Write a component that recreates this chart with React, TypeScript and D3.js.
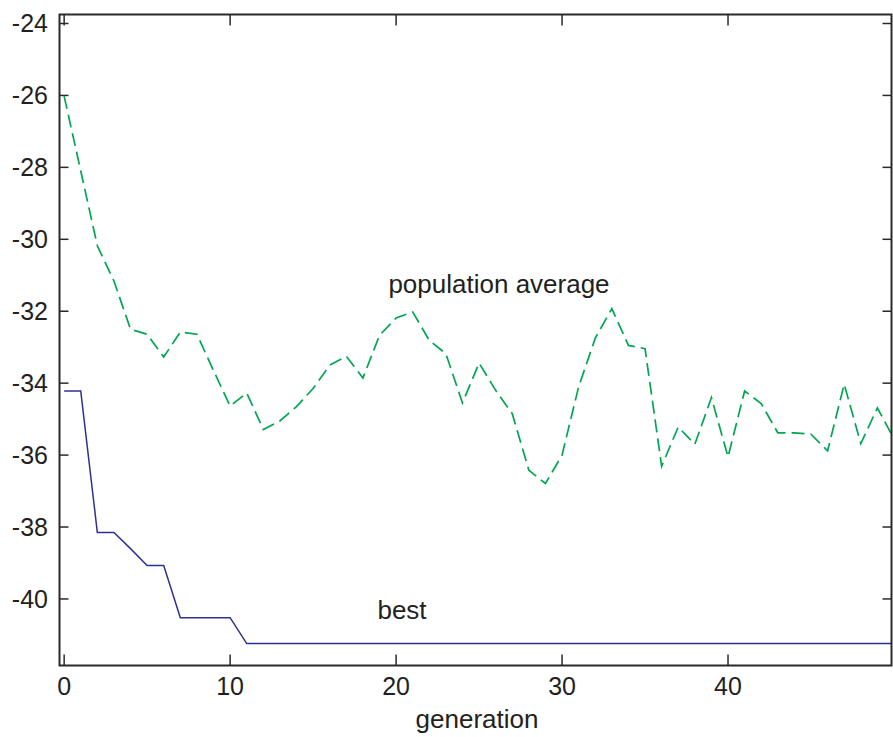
import * as d3 from "d3"

const generations = [
  0, 1, 2, 3, 4, 5, 6, 7, 8, 9, 10, 11, 12, 13, 14, 15, 16, 17, 18, 19, 20, 21, 22, 23, 24, 25,
  26, 27, 28, 29, 30, 31, 32, 33, 34, 35, 36, 37, 38, 39, 40, 41, 42, 43, 44, 45, 46, 47, 48, 49, 50,
]

const populationAverage = [
  -26.02, -28.1, -30.18, -31.16, -32.5, -32.64, -33.27, -32.58, -32.64, -33.65, -34.64, -34.27,
  -35.29, -35.05, -34.65, -34.15, -33.5, -33.25, -33.86, -32.67, -32.19, -32.02, -32.81, -33.18,
  -34.55, -33.44, -34.2, -34.85, -36.42, -36.79, -36.0, -34.1, -32.75, -31.93, -32.95, -33.04,
  -36.31, -35.22, -35.7, -34.4, -36.05, -34.22, -34.57, -35.38, -35.38, -35.42, -35.88, -34.03,
  -35.68, -34.69, -35.55,
]

const best = [
  -34.22, -34.22, -38.15, -38.15, -38.6, -39.07, -39.07, -40.52, -40.52, -40.52, -40.52, -41.24,
  -41.24, -41.24, -41.24, -41.24, -41.24, -41.24, -41.24, -41.24, -41.24, -41.24, -41.24, -41.24,
  -41.24, -41.24, -41.24, -41.24, -41.24, -41.24, -41.24, -41.24, -41.24, -41.24, -41.24, -41.24,
  -41.24, -41.24, -41.24, -41.24, -41.24, -41.24, -41.24, -41.24, -41.24, -41.24, -41.24, -41.24,
  -41.24, -41.24, -41.24,
]

const xTicks = [0, 10, 20, 30, 40]
const yTicks = [-24, -26, -28, -30, -32, -34, -36, -38, -40]

const W = 893
const H = 737
const plot = { left: 59.5, right: 891.5, top: 14.5, bottom: 665.5 }
const axisColor = "#2b2a29"
const textColor = "#231f20"
const font = "'Liberation Sans', Arial, Helvetica, sans-serif"

export default function App() {
  const x = d3.scaleLinear().domain([-0.28, 49.85]).range([plot.left, plot.right])
  const y = d3.scaleLinear().domain([-41.85, -23.75]).range([plot.bottom, plot.top])

  const line = d3
    .line<number>()
    .x((_, i) => x(generations[i]))
    .y((d) => y(d))

  return (
    <svg
      width={W}
      height={H}
      style={{ position: "absolute", left: 0, top: 0, background: "#fff" }}
      fontFamily={font}
    >
      <defs>
        <clipPath id="plotClip">
          <rect x={plot.left} y={plot.top} width={plot.right - plot.left} height={plot.bottom - plot.top} />
        </clipPath>
      </defs>

      <g clipPath="url(#plotClip)">
        <path
          d={line(populationAverage) || ""}
          fill="none"
          stroke="#00a651"
          strokeWidth={1.7}
          strokeDasharray="13,6"
        />
        <path d={line(best) || ""} fill="none" stroke="#2e3192" strokeWidth={1.5} />
      </g>

      {/* frame */}
      <rect
        x={plot.left}
        y={plot.top}
        width={plot.right - plot.left}
        height={plot.bottom - plot.top}
        fill="none"
        stroke={axisColor}
        strokeWidth={2}
      />

      {/* x ticks, bottom and top */}
      {xTicks.map((t) => (
        <g key={"x" + t}>
          <line x1={x(t)} x2={x(t)} y1={plot.bottom} y2={plot.bottom - 11} stroke={axisColor} strokeWidth={1.5} />
          <line x1={x(t)} x2={x(t)} y1={plot.top} y2={plot.top + 11} stroke={axisColor} strokeWidth={1.5} />
          <text x={x(t)} y={695} textAnchor="middle" fontSize={25} fill={textColor}>
            {t}
          </text>
        </g>
      ))}

      {/* y ticks, left and right */}
      {yTicks.map((t) => (
        <g key={"y" + t}>
          <line x1={plot.left} x2={plot.left + 9} y1={y(t)} y2={y(t)} stroke={axisColor} strokeWidth={1.5} />
          <line x1={plot.right} x2={plot.right - 9} y1={y(t)} y2={y(t)} stroke={axisColor} strokeWidth={1.5} />
          <text x={48} y={y(t)} dy="0.36em" textAnchor="end" fontSize={25} fill={textColor}>
            {t}
          </text>
        </g>
      ))}

      <text x={477} y={728} textAnchor="middle" fontSize={26} fill={textColor}>
        generation
      </text>
      <text x={499} y={293} textAnchor="middle" fontSize={26} fill={textColor}>
        population average
      </text>
      <text x={402} y={619} textAnchor="middle" fontSize={26} fill={textColor}>
        best
      </text>
    </svg>
  )
}
